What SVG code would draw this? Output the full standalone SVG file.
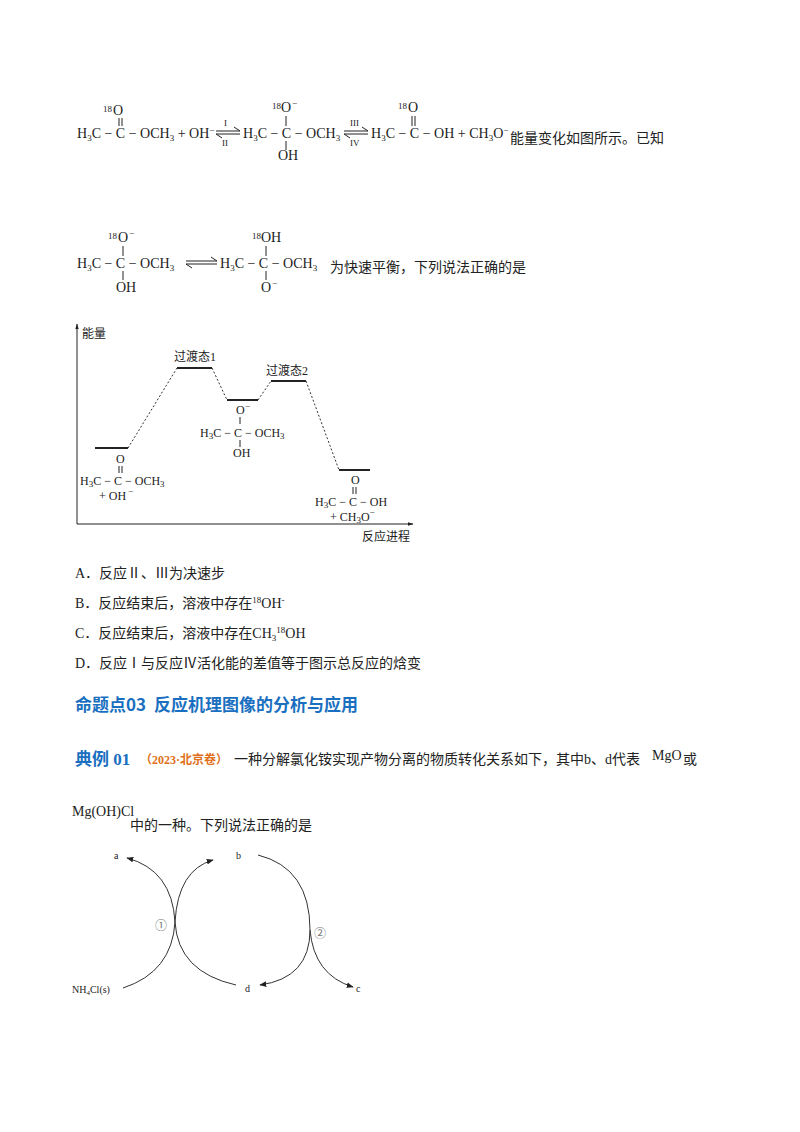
<svg xmlns="http://www.w3.org/2000/svg" width="800" height="1132" viewBox="0 0 800 1132">
<style>
text{font-family:"Liberation Serif","Noto Sans CJK SC",serif;font-size:14px;fill:#222}
.cn{font-family:"Liberation Serif","Noto Sans CJK SC",sans-serif;font-size:14px}
.sm{font-size:9px}
.ln{stroke:#222;stroke-width:1;fill:none}
.lv{stroke:#222;stroke-width:2}
.dot{stroke:#333;stroke-width:1;stroke-dasharray:2,2;fill:none}
.arc{stroke:#333;stroke-width:1;fill:none;marker-end:url(#ah)}
</style>
<defs>
<marker id="ah" viewBox="0 0 10 10" refX="9" refY="5" markerWidth="7" markerHeight="7" orient="auto"><path d="M0,1 L10,5 L0,9 Z" fill="#222"/></marker>
<marker id="ax" viewBox="0 0 10 10" refX="9" refY="5" markerWidth="6" markerHeight="6" orient="auto"><path d="M0,2 L10,5 L0,8 Z" fill="#222"/></marker>
</defs>
<rect width="800" height="1132" fill="#fff"/>

<g id="eq1">
<text x="103" y="112" class="sm">18</text><text x="113" y="115">O</text>
<line x1="119" y1="118" x2="119" y2="126" class="ln"/><line x1="122" y1="118" x2="122" y2="126" class="ln"/>
<text x="77" y="138">H<tspan class="sm" dy="3">3</tspan><tspan dy="-3">C − C − OCH</tspan><tspan class="sm" dy="3">3</tspan><tspan dy="-3"> + OH</tspan><tspan class="sm" dy="-5">−</tspan></text>
<text x="224" y="126" class="sm">I</text><text x="222" y="146" class="sm">II</text>
<path d="M216,131 H240 L234,127 M240,134 H216 L222,138" class="ln"/>
<text x="272" y="109" class="sm">18</text><text x="281" y="112">O</text><text x="292" y="106" class="sm">−</text>
<line x1="286" y1="116" x2="286" y2="126" class="ln"/>
<text x="243" y="138">H<tspan class="sm" dy="3">3</tspan><tspan dy="-3">C − C − OCH</tspan><tspan class="sm" dy="3">3</tspan></text>
<line x1="286" y1="141" x2="286" y2="150" class="ln"/>
<text x="278" y="160">OH</text>
<text x="350" y="126" class="sm">III</text><text x="350" y="146" class="sm">IV</text>
<path d="M344,131 H368 L362,127 M368,134 H344 L350,138" class="ln"/>
<text x="398" y="109" class="sm">18</text><text x="408" y="112">O</text>
<line x1="412" y1="116" x2="412" y2="126" class="ln"/><line x1="415" y1="116" x2="415" y2="126" class="ln"/>
<text x="371" y="138">H<tspan class="sm" dy="3">3</tspan><tspan dy="-3">C − C − OH + CH</tspan><tspan class="sm" dy="3">3</tspan><tspan dy="-3">O</tspan><tspan class="sm" dy="-5">−</tspan></text>
<text x="510" y="143" class="cn">能量变化如图所示。已知</text>
</g>

<g id="eq2">
<text x="108" y="239" class="sm">18</text><text x="118" y="242">O</text><text x="129" y="236" class="sm">−</text>
<line x1="123" y1="246" x2="123" y2="256" class="ln"/>
<text x="77" y="268">H<tspan class="sm" dy="3">3</tspan><tspan dy="-3">C − C − OCH</tspan><tspan class="sm" dy="3">3</tspan></text>
<line x1="123" y1="271" x2="123" y2="280" class="ln"/>
<text x="116" y="292">OH</text>
<path d="M186,261 H217 L211,257 M217,264 H186 L192,268" class="ln"/>
<text x="252" y="239" class="sm">18</text><text x="261" y="242">OH</text>
<line x1="266" y1="246" x2="266" y2="256" class="ln"/>
<text x="220" y="268">H<tspan class="sm" dy="3">3</tspan><tspan dy="-3">C − C − OCH</tspan><tspan class="sm" dy="3">3</tspan></text>
<line x1="266" y1="271" x2="266" y2="280" class="ln"/>
<text x="261" y="292">O</text><text x="272" y="286" class="sm">−</text>
<text x="330" y="272" class="cn">为快速平衡，下列说法正确的是</text>
</g>

<g id="graph">
<line x1="77" y1="524" x2="77" y2="324" class="ln" marker-end="url(#ax)"/>
<line x1="77" y1="524" x2="413" y2="524" class="ln" marker-end="url(#ax)"/>
<text x="82" y="338" class="cn" style="font-size:12px">能量</text>
<text x="362" y="541" class="cn" style="font-size:12px">反应进程</text>
<line x1="95" y1="448" x2="128" y2="448" class="lv"/>
<line x1="177" y1="368" x2="212" y2="368" class="lv"/>
<line x1="227" y1="400" x2="258" y2="400" class="lv"/>
<line x1="271" y1="381" x2="306" y2="381" class="lv"/>
<line x1="339" y1="470" x2="370" y2="470" class="lv"/>
<path d="M128,448 L177,368 M212,368 L227,400 M258,400 L271,381 M306,381 L339,470" class="dot"/>
<text x="174" y="361" class="cn" style="font-size:12px">过渡态1</text>
<text x="266" y="375" class="cn" style="font-size:12px">过渡态2</text>
<g style="font-size:12px">
<text x="116" y="463" style="font-size:12px">O</text>
<line x1="119" y1="466" x2="119" y2="473" class="ln"/><line x1="122" y1="466" x2="122" y2="473" class="ln"/>
<text x="80" y="485" style="font-size:12px">H<tspan class="sm" dy="2">3</tspan><tspan dy="-2">C − C − OCH</tspan><tspan class="sm" dy="2">3</tspan></text>
<text x="99" y="500" style="font-size:12px">+ OH</text><text x="128" y="494" class="sm">−</text>
<text x="236" y="414" style="font-size:12px">O</text><text x="245" y="409" class="sm">−</text>
<line x1="240" y1="417" x2="240" y2="424" class="ln"/>
<text x="200" y="437" style="font-size:12px">H<tspan class="sm" dy="2">3</tspan><tspan dy="-2">C − C − OCH</tspan><tspan class="sm" dy="2">3</tspan></text>
<line x1="240" y1="440" x2="240" y2="447" class="ln"/>
<text x="233" y="457" style="font-size:12px">OH</text>
<text x="351" y="484" style="font-size:12px">O</text>
<line x1="353" y1="487" x2="353" y2="494" class="ln"/><line x1="356" y1="487" x2="356" y2="494" class="ln"/>
<text x="315" y="506" style="font-size:12px">H<tspan class="sm" dy="2">3</tspan><tspan dy="-2">C − C − OH</tspan></text>
<text x="330" y="521" style="font-size:12px">+ CH<tspan class="sm" dy="2">3</tspan><tspan dy="-2">O</tspan><tspan class="sm" dy="-6">−</tspan></text>
</g>
</g>

<g id="options">
<text x="75" y="578" class="cn">A．反应Ⅱ、Ⅲ为决速步</text>
<text x="75" y="608" class="cn">B．反应结束后，溶液中存在<tspan class="sm" dy="-5">18</tspan><tspan dy="5">OH</tspan><tspan class="sm" dy="-5">-</tspan></text>
<text x="75" y="638" class="cn">C．反应结束后，溶液中存在CH<tspan class="sm" dy="3">3</tspan><tspan class="sm" dy="-8">18</tspan><tspan dy="5">OH</tspan></text>
<text x="75" y="668" class="cn">D．反应Ⅰ与反应Ⅳ活化能的差值等于图示总反应的焓变</text>
</g>

<text x="75" y="711" style="font-family:'Noto Sans CJK SC',sans-serif;font-size:17px;font-weight:bold;fill:#1a6fc0">命题点03 <tspan dx="4">反应机理图像的分析与应用</tspan></text>

<g id="example">
<text x="75" y="765" style="font-family:'Liberation Serif','Noto Sans CJK SC',serif;font-size:17px;font-weight:bold;fill:#1a6fc0">典例 01</text>
<text x="140" y="764" style="font-family:'Liberation Serif','Noto Sans CJK SC',serif;font-size:12px;font-weight:bold;fill:#e07020">（2023·北京卷）</text>
<text x="234" y="764" class="cn">一种分解氯化铵实现产物分离的物质转化关系如下，其中b、d代表</text>
<text x="652" y="760" style="font-size:14px">MgO</text>
<text x="683" y="764" class="cn">或</text>
<text x="72" y="816" style="font-size:14px">Mg(OH)Cl</text>
<text x="130" y="830" class="cn">中的一种。下列说法正确的是</text>
</g>

<g id="connectors">
<path d="M236,985 Q178,972 175,922 Q172,870 127,858" class="arc"/>
<path d="M123,988 Q172,972 175,922 Q178,870 213,860" class="arc"/>
<path d="M258,855 Q310,868 310,930 Q310,978 260,985" class="arc"/>
<path d="M310,930 Q314,975 353,987" class="arc"/>
</g>
<g id="n-a"><text x="114" y="859" style="font-size:10px">a</text></g>
<g id="n-b"><text x="236" y="859" style="font-size:10px">b</text></g>
<g id="n-nh4cl"><text x="72" y="993" style="font-size:10px">NH<tspan style="font-size:7px" dy="2">4</tspan><tspan dy="-2">Cl(s)</tspan></text></g>
<g id="n-d"><text x="245" y="992" style="font-size:10px">d</text></g>
<g id="n-c"><text x="356" y="992" style="font-size:10px">c</text></g>
<text x="155" y="930" style="font-size:12px;fill:#777">①</text>
<text x="314" y="938" style="font-size:12px;fill:#777">②</text>
</svg>
